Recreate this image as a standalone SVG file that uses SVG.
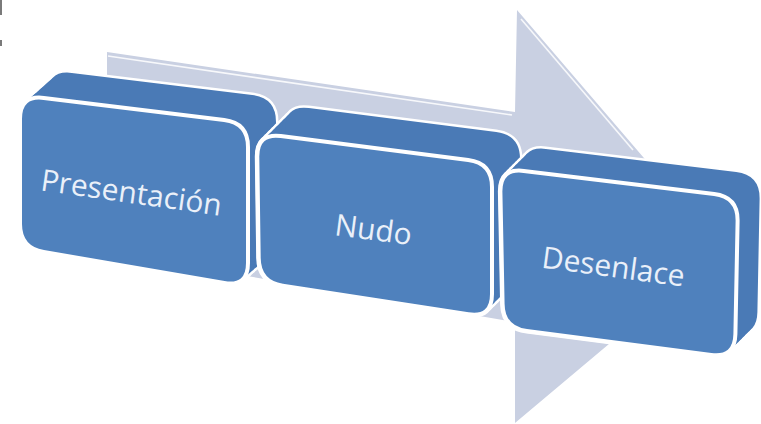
<svg xmlns="http://www.w3.org/2000/svg" xmlns:xlink="http://www.w3.org/1999/xlink" width="761" height="424" viewBox="0 0 761 424">
<style>
.arrow{fill:#c9d0e2}
.hl{fill:none;stroke:#ffffff;stroke-width:1.6;opacity:0.85}
.edge{fill:#ffffff;stroke:#ffffff;stroke-width:5;stroke-linejoin:round}
.solid{fill:#4a7ab6;stroke:none}
.front{fill:#4f81bd;stroke:#ffffff;stroke-width:4;stroke-linejoin:round}
.lbl{font-family:"Open Sans","Liberation Sans",sans-serif;font-size:30px;fill:#eaf0f9;text-anchor:middle}
.mark{fill:#7a7a7a}
</style>
<defs>
<path id="f1" d="M43.8,97.9 L224.2,120.1 Q248,123 248,147 L248,263 Q248,287 224.3,283 L43.7,252 Q20,248 20,224 L20,119 Q20,95 43.8,97.9 Z"/>
<path id="f2" d="M280.8,136 L468.2,160 Q492,163 492,187 L492,294 Q492,318 468.3,314.3 L282.7,285.7 Q259,282 258.7,258 L257.3,157 Q257,133 280.8,136 Z"/>
<path id="f3" d="M523.8,170.9 L714.2,194.1 Q738,197 737.6,221 L735.4,334 Q735,358 711.2,354.9 L526.8,331.1 Q503,328 502.6,304 L500.4,192 Q500,168 523.8,170.9 Z"/>
<g id="s1">
<use xlink:href="#f1"/>
<use xlink:href="#f1" transform="translate(3.5,-3.125)"/>
<use xlink:href="#f1" transform="translate(7,-6.25)"/>
<use xlink:href="#f1" transform="translate(10.5,-9.375)"/>
<use xlink:href="#f1" transform="translate(14,-12.5)"/>
<use xlink:href="#f1" transform="translate(17.5,-15.625)"/>
<use xlink:href="#f1" transform="translate(21,-18.75)"/>
<use xlink:href="#f1" transform="translate(24.5,-21.875)"/>
<use xlink:href="#f1" transform="translate(28,-25)"/>
</g>
<g id="s2">
<use xlink:href="#f2"/>
<use xlink:href="#f2" transform="translate(3.5,-3.5)"/>
<use xlink:href="#f2" transform="translate(7,-7)"/>
<use xlink:href="#f2" transform="translate(10.5,-10.5)"/>
<use xlink:href="#f2" transform="translate(14,-14)"/>
<use xlink:href="#f2" transform="translate(17.5,-17.5)"/>
<use xlink:href="#f2" transform="translate(21,-21)"/>
<use xlink:href="#f2" transform="translate(24.5,-24.5)"/>
<use xlink:href="#f2" transform="translate(28,-28)"/>
</g>
<g id="s3">
<use xlink:href="#f3"/>
<use xlink:href="#f3" transform="translate(2.75,-2.75)"/>
<use xlink:href="#f3" transform="translate(5.5,-5.5)"/>
<use xlink:href="#f3" transform="translate(8.25,-8.25)"/>
<use xlink:href="#f3" transform="translate(11,-11)"/>
<use xlink:href="#f3" transform="translate(13.75,-13.75)"/>
<use xlink:href="#f3" transform="translate(16.5,-16.5)"/>
<use xlink:href="#f3" transform="translate(19.25,-19.25)"/>
<use xlink:href="#f3" transform="translate(22,-22)"/>
</g>
</defs>
<rect x="0" y="0" width="761" height="424" fill="#ffffff"/>
<rect class="mark" x="0" y="0" width="2" height="15"/>
<rect class="mark" x="0" y="40" width="2" height="6"/>
<g id="connectors">
<polygon id="process-arrow" class="arrow" points="107,52 515,112 517,10 722,249 515,423 515,322 107,252"/>
<polyline class="hl" points="108,56 512,115"/>
<polyline class="hl" points="521,19 633,150"/>
</g>
<g id="node-presentacion">
<use xlink:href="#s1" class="edge"/>
<use xlink:href="#s1" class="solid"/>
<use xlink:href="#f1" class="front"/>
<text class="lbl" x="130" y="203" transform="rotate(8,130,203)">Presentación</text>
</g>
<g id="node-nudo">
<use xlink:href="#s2" class="edge"/>
<use xlink:href="#s2" class="solid"/>
<use xlink:href="#f2" class="front"/>
<text class="lbl" x="372" y="240" transform="rotate(7.5,372,240)">Nudo</text>
</g>
<g id="node-desenlace">
<use xlink:href="#s3" class="edge"/>
<use xlink:href="#s3" class="solid"/>
<use xlink:href="#f3" class="front"/>
<text class="lbl" x="612" y="277" transform="rotate(7.7,612,277)">Desenlace</text>
</g>
</svg>
